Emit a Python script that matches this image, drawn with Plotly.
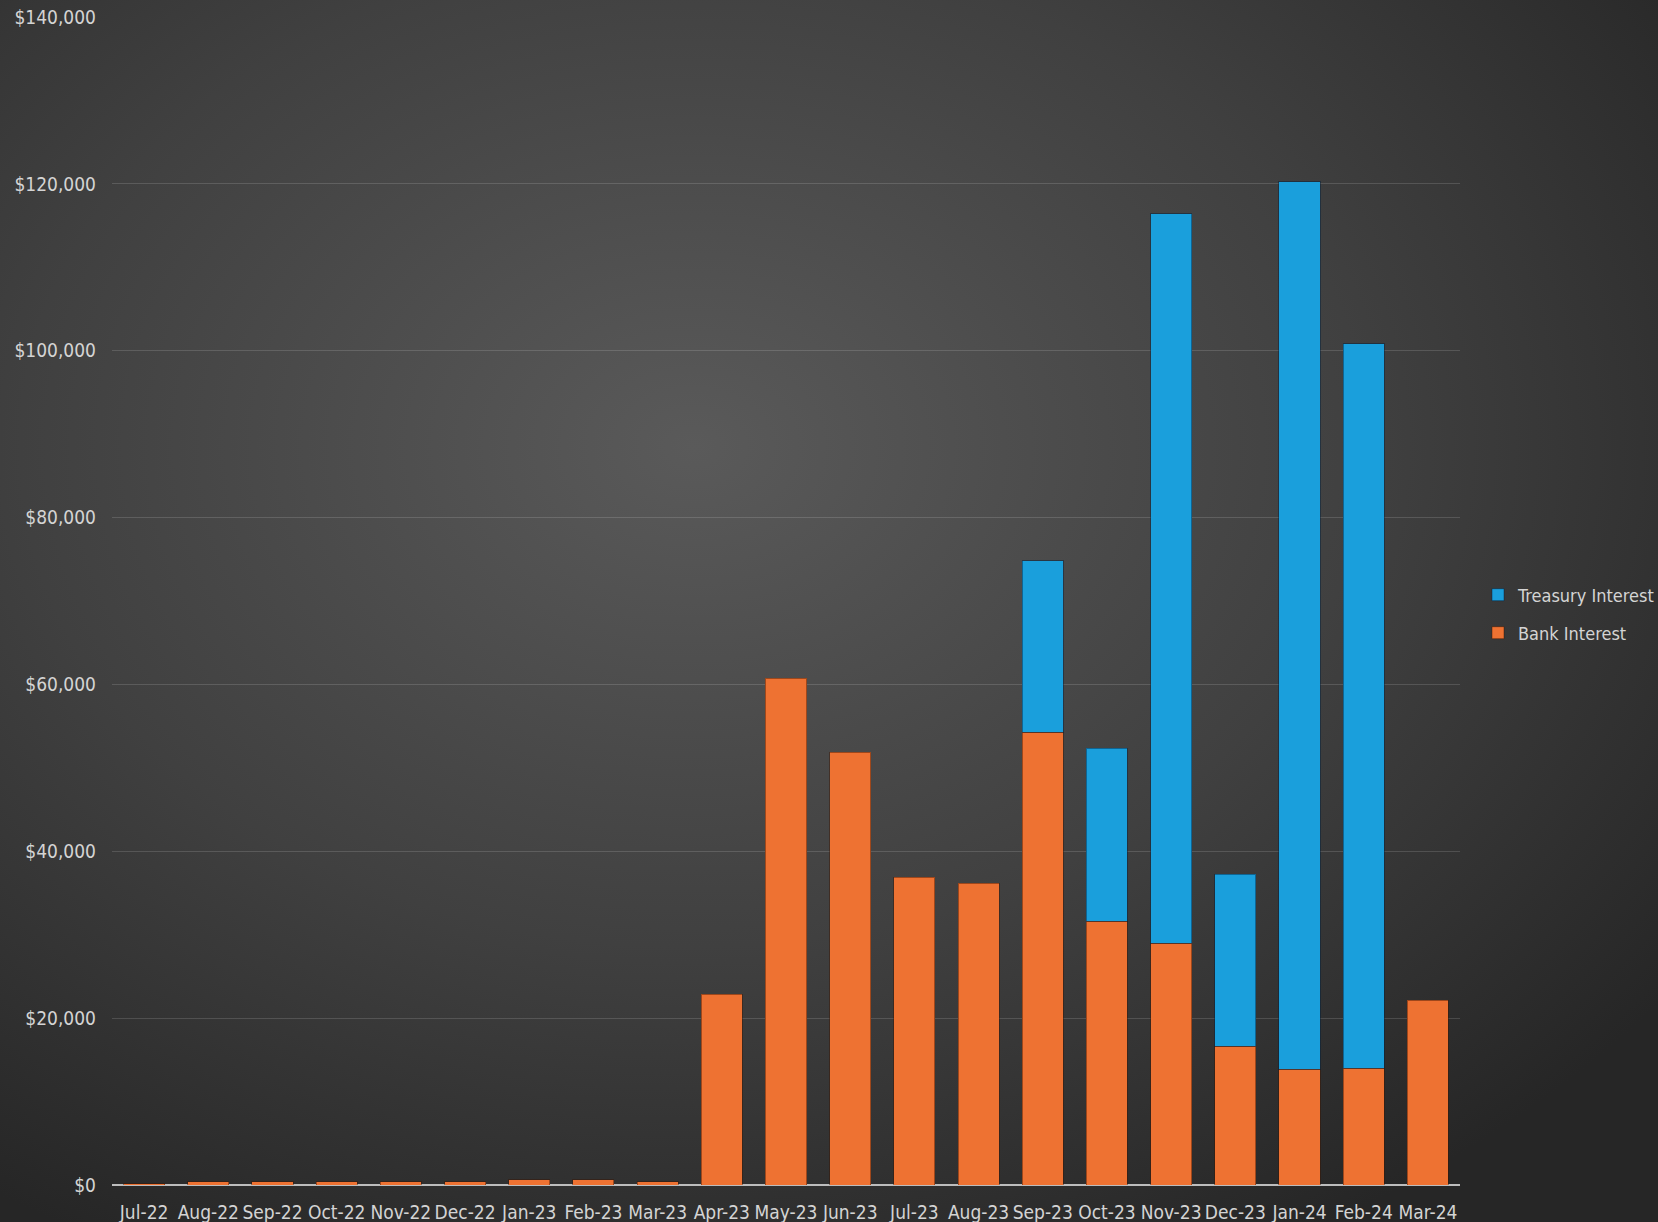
import base64
import plotly.graph_objects as go

months = ["Jul-22", "Aug-22", "Sep-22", "Oct-22", "Nov-22", "Dec-22", "Jan-23",
          "Feb-23", "Mar-23", "Apr-23", "May-23", "Jun-23", "Jul-23", "Aug-23",
          "Sep-23", "Oct-23", "Nov-23", "Dec-23", "Jan-24", "Feb-24", "Mar-24"]
bank_interest = [150, 400, 400, 400, 400, 400, 650, 650, 400, 22870, 60720, 51860,
                 36890, 36170, 54250, 31620, 28980, 16650, 13890, 14010, 22160]
treasury_interest = [0, 0, 0, 0, 0, 0, 0, 0, 0, 0, 0, 0, 0, 0,
                     20600, 20720, 87430, 20600, 106350, 86830, 0]
y_ticks = [0, 20000, 40000, 60000, 80000, 100000, 120000, 140000]
y_tick_labels = ["$0", "$20,000", "$40,000", "$60,000", "$80,000", "$100,000",
                 "$120,000", "$140,000"]

W, H = 1658, 1222
ML, MR, MT, MB = 112, 198, 17, 37
PW, PH = W - ML - MR, H - MT - MB
PAD = 20

svg = (
    f'<svg xmlns="http://www.w3.org/2000/svg" width="{W}" height="{H}" '
    f'viewBox="0 0 {W} {H}" preserveAspectRatio="none"><defs>'
    '<radialGradient id="g" cx="0.42" cy="0.37" r="0.72">'
    '<stop offset="0" stop-color="#5a5a5a"/>'
    '<stop offset="0.55" stop-color="#404040"/>'
    '<stop offset="1" stop-color="#262626"/>'
    '</radialGradient></defs>'
    f'<rect width="{W}" height="{H}" fill="url(#g)"/></svg>'
)
bg_src = "data:image/svg+xml;base64," + base64.b64encode(svg.encode()).decode()

font_family = "DejaVu Sans Condensed, DejaVu Sans, sans-serif"
text_color = "#d4d4d4"
FS = 19
LFS = 18

treasury_y = [v if v > 0 else None for v in treasury_interest]

fig = go.Figure()
fig.add_trace(go.Bar(
    x=months, y=bank_interest, name="Bank Interest",
    marker=dict(color="#EE7232", line=dict(color="rgba(60,20,0,0.45)", width=1)),
    legend="legend2",
))
fig.add_trace(go.Bar(
    x=months, y=treasury_y, name="Treasury Interest",
    marker=dict(color="#1A9FDC", line=dict(color="rgba(0,30,60,0.45)", width=1)),
    legend="legend",
))

legend_common = dict(
    xref="container", yref="container", xanchor="left", yanchor="middle",
    itemwidth=30, bgcolor="rgba(0,0,0,0)",
    font=dict(family=font_family, size=LFS, color=text_color),
)

fig.update_layout(
    width=W, height=H,
    barmode="stack",
    bargap=0.36,
    margin=dict(l=ML, r=MR, t=MT, b=MB, autoexpand=False),
    paper_bgcolor="#2c2c2c",
    plot_bgcolor="rgba(0,0,0,0)",
    font=dict(family=font_family, size=FS, color=text_color),
    showlegend=True,
    legend=dict(x=1478 / W, y=1 - 595 / H, **legend_common),
    legend2=dict(x=1478 / W, y=1 - 633 / H, **legend_common),
    images=[dict(
        source=bg_src, xref="paper", yref="paper",
        x=-(ML + PAD) / PW, y=1 + (MT + PAD) / PH,
        sizex=(W + 2 * PAD) / PW, sizey=(H + 2 * PAD) / PH,
        xanchor="left", yanchor="top", sizing="stretch", layer="below",
    )],
    xaxis=dict(
        type="category", showgrid=False, showline=False, ticks="",
        tickfont=dict(family=font_family, size=FS, color=text_color),
        tickangle=0, ticklabelstandoff=14, automargin=False,
    ),
    yaxis=dict(
        range=[0, 140000], tickvals=y_ticks, ticktext=y_tick_labels,
        showgrid=True, gridcolor="rgba(255,255,255,0.14)", gridwidth=1,
        zeroline=True, zerolinecolor="#bdbdbd", zerolinewidth=2,
        showline=False, ticks="", ticklabelstandoff=15, automargin=False,
        tickfont=dict(family=font_family, size=FS, color=text_color),
    ),
)

fig.write_html("out.html")
